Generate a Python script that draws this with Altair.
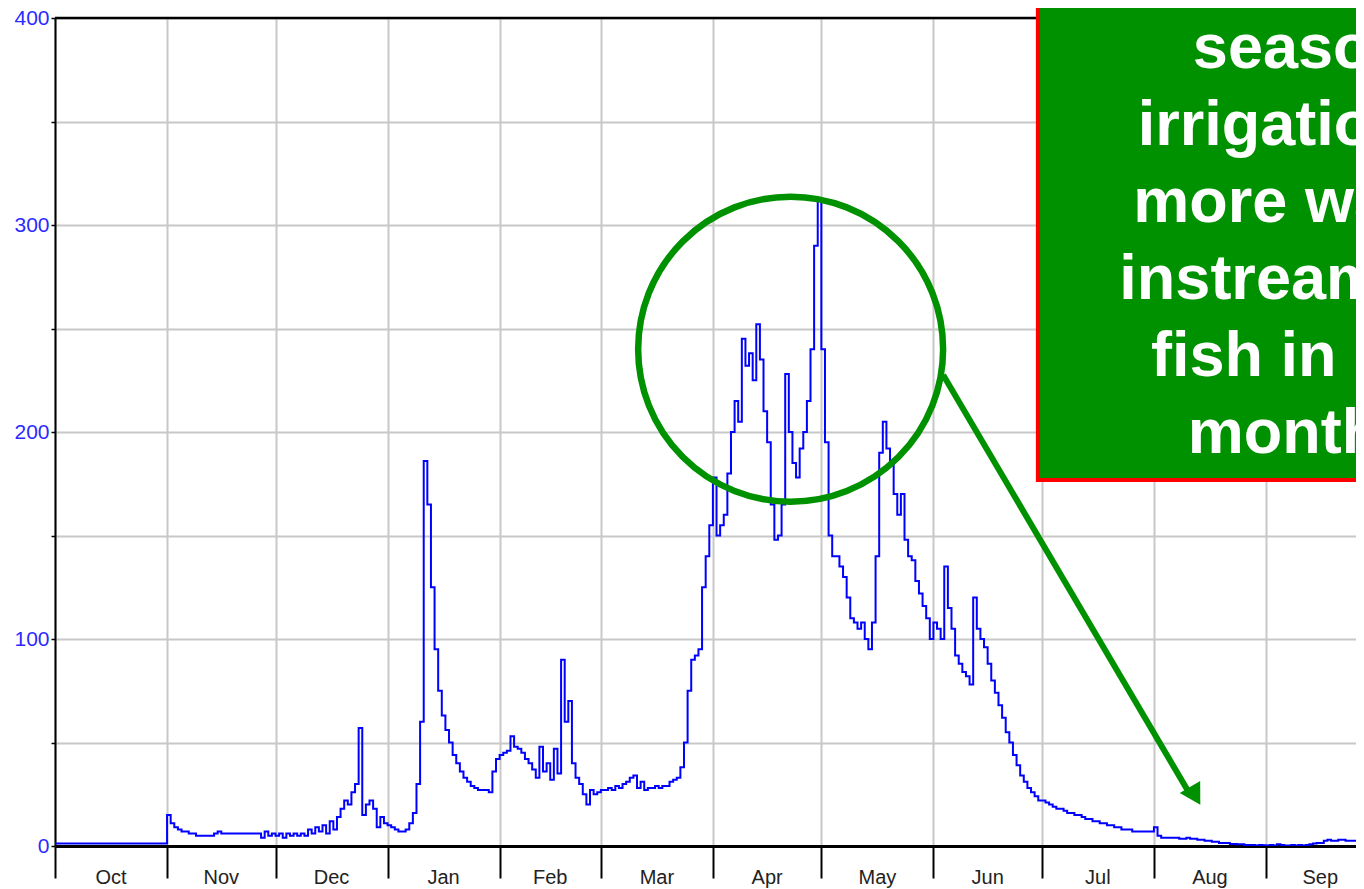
import altair as alt
import pandas as pd

# ---------------- data (daily discharge, water year Oct..Sep) ----------------
months = ["Oct", "Nov", "Dec", "Jan", "Feb", "Mar", "Apr", "May", "Jun", "Jul", "Aug", "Sep"]

oct_q = [1.2, 1.2, 1.2, 1.2, 1.2, 1.2, 1.2, 1.2, 1.2, 1.2, 1.2, 1.2, 1.2, 1.2, 1.2, 1.2,
         1.2, 1.2, 1.2, 1.2, 1.2, 1.2, 1.2, 1.2, 1.2, 1.2, 1.2, 1.2, 1.2, 1.2, 1.2]
nov_q = [15, 11, 9, 8, 7, 7, 6, 6, 5, 5, 5, 5, 5, 6, 7, 6, 6, 6, 6, 6, 6, 6, 6, 6, 6, 6, 4, 7, 5, 6]
dec_q = [5, 6, 4, 6, 5, 6, 5, 6, 5, 8, 6, 9, 7, 10, 6, 12, 8, 14, 18, 22, 20, 26, 30, 57, 15,
         20, 22, 18, 9, 14, 11]
jan_q = [10, 9, 8, 7, 7, 8, 11, 16, 30, 60, 186, 165, 125, 95, 75, 63, 56, 50, 44, 40, 36, 33,
         31, 29, 28, 27, 27, 27, 26, 36, 42]
feb_q = [44, 45, 46, 53, 48, 47, 45, 42, 40, 37, 33, 48, 36, 40, 32, 47, 35, 90, 60, 70, 40, 33,
         30, 25, 20, 27, 25, 26]
mar_q = [27, 27, 28, 27, 29, 28, 30, 31, 33, 34, 28, 31, 27, 28, 28, 29, 28, 29, 29, 31, 32, 33,
         38, 50, 75, 90, 92, 95, 125, 140, 155]
apr_q = [178, 150, 155, 160, 180, 200, 215, 205, 245, 232, 238, 225, 252, 235, 210, 195, 165, 148,
         150, 165, 228, 200, 185, 178, 192, 200, 215, 240, 290, 312]
may_q = [240, 195, 150, 140, 140, 135, 130, 120, 110, 108, 105, 108, 100, 95, 108, 140, 190, 205,
         192, 185, 170, 160, 170, 148, 140, 138, 128, 122, 116, 110, 100]
jun_q = [108, 105, 100, 135, 115, 105, 92, 88, 84, 82, 78, 120, 105, 100, 96, 88, 80, 74, 68, 62,
         55, 50, 44, 39, 34, 31, 28, 26, 24, 22]
jul_q = [22, 21, 20, 19, 18, 18, 17, 16, 16, 15, 15, 14, 13, 13, 12, 12, 11, 11, 10, 10, 9, 9, 8,
         8, 8, 7, 7, 7, 7, 7, 7]
aug_q = [9, 5, 4, 4, 4, 4, 4, 3.5, 3.5, 4, 3.5, 3.5, 3, 3, 2.5, 2.5, 2, 2, 1.5, 1.5, 1.5, 1, 1,
         0.8, 0.8, 0.5, 0.5, 0.5, 0.3, 0.5, 0.4]
sep_q = [0.3, 0.5, 0.3, 0.8, 0.5, 0.3, 0.3, 0.5, 0.3, 0.5, 0.3, 0.5, 0.8, 1.2, 1.5, 1.5, 2.5, 3,
         2.5, 2.5, 3, 3, 2.5, 2.5, 2.5, 2.5, 2.5, 2.2, 2.2, 2.2]

y_ticks = [0, 50, 100, 150, 200, 250, 300, 350, 400]

note_lines = ["season", "irrigation =", "more water", "instream for", "fish in dry", "months"]

# ---------------- build tables ----------------
monthly = [oct_q, nov_q, dec_q, jan_q, feb_q, mar_q, apr_q, may_q, jun_q, jul_q, aug_q, sep_q]
flow = []
starts = []
mids = []
for m in monthly:
    starts.append(len(flow))
    mids.append(len(flow) + len(m) / 2)
    flow.extend(m)
assert len(flow) == 365, len(flow)

df = pd.DataFrame({"day": list(range(len(flow))), "cfs": flow})
lab_df = pd.DataFrame({"mid": mids, "month": months})

GREEN = "#009100"
x_scale = alt.Scale(domain=[0, 359.9], nice=False, zero=False)
y_scale = alt.Scale(domain=[0, 400], nice=False, zero=False)

x_axis = alt.Axis(values=starts, labels=False, title=None, tickSize=32, tickWidth=2,
                  tickColor="black", grid=True, gridColor="#c8c8c8", gridWidth=2,
                  domainColor="black", domainWidth=3)
y_axis = alt.Axis(values=y_ticks, labelExpr="datum.value % 100 == 0 ? datum.label : ''",
                  tickSize=4, tickWidth=1.5, tickColor="black", labelColor="#2b2bff",
                  labelFont="Liberation Sans", labelFontSize=21, labelPadding=2,
                  grid=True, gridColor="#c8c8c8", gridWidth=2, domainColor="black",
                  domainWidth=2, title=None)


def X(field):
    return alt.X(field, scale=x_scale, axis=x_axis)


def Y(field):
    return alt.Y(field, scale=y_scale, axis=y_axis)


line = alt.Chart(df).mark_line(interpolate="step-after", color="#0000ff", strokeWidth=2,
                               clip=True).encode(x=X("day:Q"), y=Y("cfs:Q"))

month_labels = alt.Chart(lab_df).mark_text(fontSize=20, font="Liberation Sans", color="#222222",
                                           baseline="middle", align="center").encode(
    x=X("mid:Q"), y=alt.value(860), text="month:N")

top_border = alt.Chart(pd.DataFrame({"v": [400]})).mark_rule(color="black", strokeWidth=2.5).encode(
    y=Y("v:Q"))

circle = alt.Chart(pd.DataFrame({"d": [203.5], "v": [240.0]})).mark_point(
    shape="circle", size=93000, filled=False, stroke=GREEN, strokeWidth=6.5, opacity=1
).encode(x=X("d:Q"), y=Y("v:Q"))

arrow = alt.Chart(pd.DataFrame({"d1": [245.7], "v1": [227.5], "d2": [313.8], "v2": [25.5]})).mark_rule(
    color=GREEN, strokeWidth=6
).encode(x=X("d1:Q"), y=Y("v1:Q"), x2="d2:Q", y2="v2:Q")

head = alt.Chart(pd.DataFrame({"d": [315.4], "v": [24.2]})).mark_point(
    shape="triangle-down", filled=True, size=560, angle=329.7, color=GREEN, opacity=1
).encode(x=X("d:Q"), y=Y("v:Q"))

box = alt.Chart(pd.DataFrame({"x0": [271.9], "x1": [420.0], "y0": [176.8], "y1": [430.0]})).mark_rect(
    fill=GREEN, stroke="#ff0000", strokeWidth=4
).encode(x=X("x0:Q"), x2="x1:Q", y=Y("y0:Q"), y2="y1:Q")

note = alt.Chart(pd.DataFrame({"d": [344.8], "v": [375.8]})).mark_text(
    text=note_lines, lineHeight=77, font="Liberation Sans", fontWeight="bold", fontSize=63,
    color="white", align="center", baseline="alphabetic"
).encode(x=X("d:Q"), y=Y("v:Q"))

chart = alt.layer(line, month_labels, top_border, circle, arrow, head, box, note).properties(
    width=1301, height=828,
    autosize=alt.AutoSizeParams(type="none"),
    padding={"left": 47, "top": 10, "right": 0, "bottom": 43},
    background="white",
).configure_view(stroke=None)

chart.save("out.html", embed_options={"renderer": "svg", "actions": False})
